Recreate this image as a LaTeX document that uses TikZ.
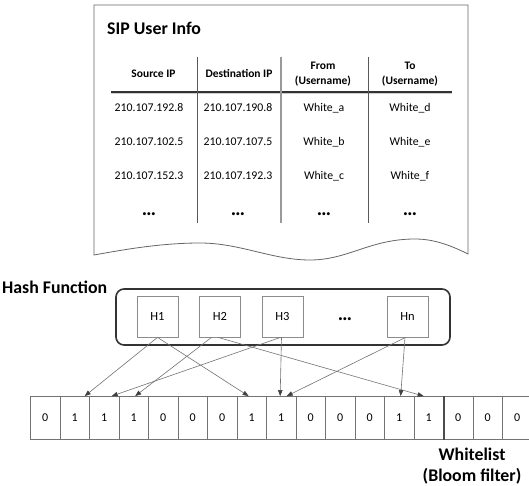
\documentclass[tikz,border=0pt]{standalone}
\usepackage{fontspec}
\setmainfont{Carlito}
\usetikzlibrary{arrows.meta,calc}

\tikzset{
  bigbold/.style={font=\fontsize{17.8}{21}\selectfont\bfseries},
  tabtext/.style={font=\fontsize{11.8}{15}\selectfont, inner sep=0pt},
  tabhead/.style={font=\fontsize{11.5}{15}\selectfont\bfseries, align=center, inner sep=0pt},
  tabdots/.style={font=\fontsize{20}{20}\selectfont\bfseries, inner sep=0pt, anchor=base},
  hashbox/.style={draw=black!80, line width=1.6pt, rounded corners=8pt,
    minimum width=334pt, minimum height=56pt, inner sep=0pt},
  hfunc/.style={draw=black!45, line width=0.8pt, minimum width=41pt, minimum height=41pt,
    inner sep=0pt, font=\fontsize{12.5}{14}\selectfont},
  bitcell/.style={draw=black!55, line width=0.8pt, minimum width=29.5pt, minimum height=43pt,
    inner sep=0pt, font=\fontsize{12}{14}\selectfont},
  hashline/.style={draw=black!55, line width=0.6pt,
    -{Triangle[length=6pt,width=4.5pt,color=black!75]}},
}

\begin{document}
\begin{tikzpicture}[x=1pt,y=-1pt]
\clip (0,0) rectangle (529,486);
\fill[white] (0,0) rectangle (529,486);

% document sheet holding the user table
\draw[black!60, line width=0.8pt]
  (94,5) -- (468,5) -- (468,254)
  .. controls (448,244) and (432,239) .. (415,239)
  .. controls (370,239) and (348,260) .. (310,260)
  .. controls (272,260) and (240,243) .. (200,243)
  .. controls (160,243) and (122,250) .. (94,255) -- cycle;

\node[bigbold, anchor=west, inner sep=0pt] (title) at (107,28) {SIP User Info};

% table rules
\draw[black!20, line width=1pt] (111,93.6) -- (452,93.6);
\draw[black!80, line width=1.8pt] (111,92) -- (452,92);
\draw[black!65, line width=0.8pt] (197,57) -- (197,223);
\draw[black!40, line width=1.4pt] (281,57) -- (281,223);
\draw[black!65, line width=0.8pt] (368,57) -- (368,223);

% table header
\node[tabhead] (hsrc)  at (153.5,74) {Source IP};
\node[tabhead] (hdst)  at (239,74) {Destination IP};
\node[tabhead] (hfrom) at (323,74.5) {From\\(Username)};
\node[tabhead] (hto)   at (410,74.5) {To\\(Username)};

% table rows
\node[tabtext] (r1a) at (149,108) {210.107.192.8};
\node[tabtext] (r1b) at (238,108) {210.107.190.8};
\node[tabtext] (r1c) at (324,108) {White\_a};
\node[tabtext] (r1d) at (410,108) {White\_d};
\node[tabtext] (r2a) at (149,142) {210.107.102.5};
\node[tabtext] (r2b) at (238,142) {210.107.107.5};
\node[tabtext] (r2c) at (324,142) {White\_b};
\node[tabtext] (r2d) at (410,142) {White\_e};
\node[tabtext] (r3a) at (149,176) {210.107.152.3};
\node[tabtext] (r3b) at (238,176) {210.107.192.3};
\node[tabtext] (r3c) at (324,176) {White\_c};
\node[tabtext] (r3d) at (410,176) {White\_f};
\node[tabdots] (r4a) at (149,215) {…};
\node[tabdots] (r4b) at (238,215) {…};
\node[tabdots] (r4c) at (324,215) {…};
\node[tabdots] (r4d) at (410,215) {…};

% hash functions
\node[bigbold, anchor=west, inner sep=0pt] (hashlabel) at (2,287) {Hash Function};
\node[hashbox] (hf) at (283,317) {};
\node[hfunc] (h1) at (157.5,316.5) {H1};
\node[hfunc] (h2) at (220,316.5) {H2};
\node[hfunc] (h3) at (282.5,316.5) {H3};
\node[tabdots] (hdots) at (345,320) {…};
\node[hfunc] (hn) at (407.5,316.5) {Hn};

% bit array
\foreach \v [count=\i] in {0,1,1,1,0,0,0,1,1,0,0,0,1,1,0,0,0} {
  \node[bitcell] (b\i) at ({30.4+29.5*(\i-0.5)},418) {\v};
}
\draw[black!70, line width=1.4pt] (b14.north east) -- (b14.south east);

\node[bigbold, align=center, inner sep=0pt] (wl) at (472,466.5) {Whitelist\\(Bloom filter)};

% hash mappings into the filter
\draw[hashline] (h1.south) -- ([xshift=10pt]b2.north);
\draw[hashline] (h1.south) -- ([xshift=-3pt]b8.north);
\draw[hashline] ([xshift=-8.5pt]h2.south) -- ([xshift=1.5pt]b4.north);
\draw[hashline] ([xshift=-2pt]h2.south) -- ([xshift=-5pt]b14.north);
\draw[hashline] ([xshift=-2pt]h3.south) -- ([xshift=7.5pt]b3.north);
\draw[hashline] ([xshift=-1pt]h3.south) -- ([xshift=-1pt]b9.north);
\draw[hashline] ([xshift=-2pt]hn.south) -- ([xshift=5.5pt]b9.north);
\draw[hashline] ([xshift=-2.5pt]hn.south) -- ([xshift=1.5pt]b13.north);
\end{tikzpicture}
\end{document}
